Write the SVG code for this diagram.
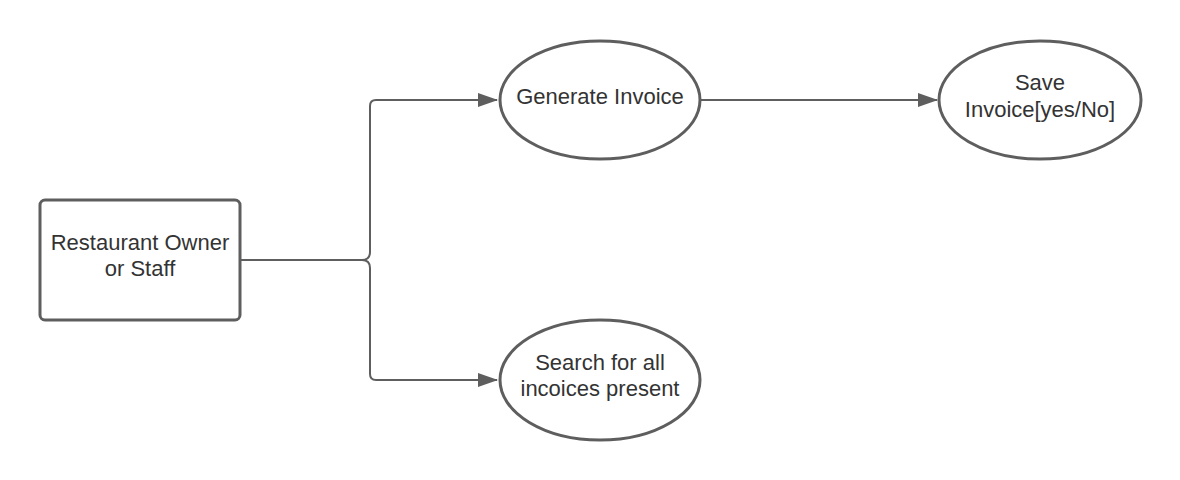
<svg xmlns="http://www.w3.org/2000/svg" width="1180" height="480" viewBox="0 0 1180 480">
<style>
.shape{fill:#fff;stroke:#5e5e5e;stroke-width:3}
.edge{fill:none;stroke:#5e5e5e;stroke-width:2}
text{font-family:"Liberation Sans",Arial,sans-serif;font-size:22px;fill:#333;text-anchor:middle}
</style>
<defs>
<marker id="arr" viewBox="0 0 20 14" refX="19" refY="7" markerWidth="20" markerHeight="14" markerUnits="userSpaceOnUse" orient="auto">
<path d="M0,0 L20,7 L0,14 Z" fill="#5e5e5e"/>
</marker>
</defs>
<rect width="1180" height="480" fill="#fff"/>
<g id="connectors">
<path class="edge" d="M241,260 H362 Q370,260 370,252 V106 Q370,100 376,100 H497" marker-end="url(#arr)"/>
<path class="edge" d="M241,260 H362 Q370,260 370,268 V374 Q370,380 376,380 H497" marker-end="url(#arr)"/>
<path class="edge" d="M701,100 H937" marker-end="url(#arr)"/>
</g>
<g id="owner">
<rect class="shape" x="40" y="200" width="200" height="120" rx="5"/>
<text x="140" y="250">Restaurant Owner</text>
<text x="140" y="276">or Staff</text>
</g>
<g id="generate">
<ellipse class="shape" cx="600" cy="100" rx="100" ry="59"/>
<text x="600" y="104">Generate Invoice</text>
</g>
<g id="save">
<ellipse class="shape" cx="1040" cy="100" rx="101" ry="59"/>
<text x="1040" y="90">Save</text>
<text x="1040" y="117">Invoice[yes/No]</text>
</g>
<g id="search">
<ellipse class="shape" cx="600" cy="380" rx="100" ry="60"/>
<text x="600" y="370">Search for all</text>
<text x="600" y="396">incoices present</text>
</g>
</svg>
